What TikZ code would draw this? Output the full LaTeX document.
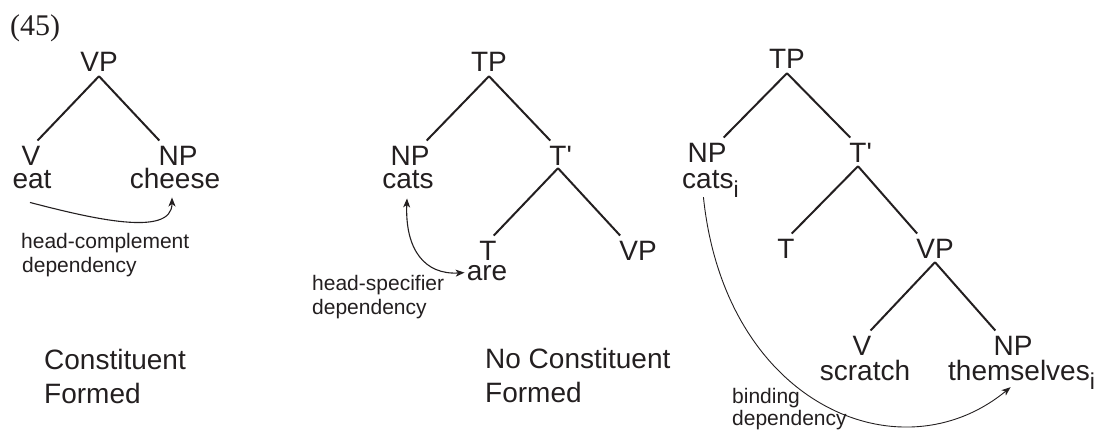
\documentclass[tikz,border=0pt]{standalone}
\usepackage{fontspec}
\setmainfont{Liberation Sans}[Ligatures=TeXOff]
\newfontfamily\exfont{Liberation Serif}
\usetikzlibrary{arrows.meta}
\definecolor{ink}{HTML}{231F20}
\newcommand\lblfont{\fontsize{28}{34}\selectfont}
\newcommand\notefont{\fontsize{21}{24}\selectfont}
\newcommand\subi{\raisebox{-9pt}{\fontsize{23}{23}\selectfont i}}
\tikzset{
  cat/.style={font=\lblfont, text=ink, inner sep=0pt, anchor=base},
  word/.style={font=\lblfont, text=ink, inner sep=0pt, anchor=base},
  wordw/.style={font=\lblfont, text=ink, inner sep=0pt, anchor=base west},
  note/.style={font=\notefont, text=ink, inner sep=0pt, anchor=base west},
  branch/.style={draw=ink, line width=2pt},
  dep/.style={draw=ink, line width=1.1pt, -{Stealth[length=9pt,width=7pt,inset=2.5pt]}},
  depboth/.style={draw=ink, line width=1.1pt, {Stealth[length=9pt,width=7pt,inset=2.5pt]}-{Stealth[length=9pt,width=7pt,inset=2.5pt]}},
}
\begin{document}
\begin{tikzpicture}[x=1pt,y=-1pt]
\useasboundingbox (0,0) rectangle (1101,432);

\node[font=\exfont\fontsize{30}{30}\selectfont, text=ink, inner sep=0pt, anchor=base west] (ex) at (10,35) {(45)};

% ---------- Tree 1 ----------
\node[cat] (vp1) at (99,71) {VP};
\node[cat] (v1) at (31,165) {V};
\node[cat] (np1) at (178,165) {NP};
\node[word] (eat1) at (32,188) {eat};
\node[word] (cheese1) at (175,188) {cheese};
\draw[branch] ([yshift=-5pt]vp1.south) -- ([xshift=-3pt,yshift=5pt]v1.north east);
\draw[branch] ([yshift=-5pt]vp1.south) -- ([xshift=1pt,yshift=5pt]np1.north west);
\draw[dep] ([xshift=-2pt,yshift=-14pt]eat1.south) .. controls (90,218) and (172,238) .. ([xshift=-3pt,yshift=-9pt]cheese1.south);
\node[note] (hc1) at (21,248) {head-complement};
\node[note] (hc2) at (22,272) {dependency};
\node[wordw] (cf1) at (44,369) {Constituent};
\node[wordw] (cf2) at (44,403) {Formed};

% ---------- Tree 2 ----------
\node[cat] (tp2) at (489,71) {TP};
\node[cat] (np2) at (410,165) {NP};
\node[cat] (tb2) at (558,165) {T\rlap{'}};
\node[word] (cats2) at (408,188) {cats};
\node[cat] (t2) at (488,260) {T};
\node[cat] (vp2) at (638,260) {VP};
\node[word] (are2) at (487,280) {are};
\draw[branch] ([yshift=-5pt]tp2.south) -- ([xshift=-3pt,yshift=5pt]np2.north east);
\draw[branch] ([yshift=-5pt]tp2.south) -- ([xshift=1pt,yshift=5pt]tb2.north west);
\draw[branch] ([yshift=-3pt]tb2.south) -- ([xshift=-3pt,yshift=5pt]t2.north east);
\draw[branch] ([yshift=-3pt]tb2.south) -- ([xshift=1pt,yshift=5pt]vp2.north west);
\draw[depboth] ([xshift=-1pt,yshift=-10pt]cats2.south) .. controls (405,250) and (425,275) .. ([xshift=-2pt]are2.west);
\node[note] (hs1) at (312,290) {head-specifier};
\node[note] (hs2) at (312,314) {dependency};
\node[wordw] (nc1) at (485,368) {No Constituent};
\node[wordw] (nc2) at (485,402) {Formed};

% ---------- Tree 3 ----------
\node[cat] (tp3) at (787,68) {TP};
\node[cat] (np3) at (707,162) {NP};
\node[cat] (tb3) at (858,162) {T\rlap{'}};
\node[wordw] (cats3) at (682,188) {cats\subi};
\node[cat] (t3) at (786,258) {T};
\node[cat] (vp3) at (935,258) {VP};
\node[cat] (v3) at (862,355) {V};
\node[cat] (np3b) at (1013,355) {NP};
\node[word] (scratch3) at (865,380) {scratch};
\node[wordw] (them3) at (948,380) {themselves\subi};
\draw[branch] ([yshift=-5pt]tp3.south) -- ([xshift=-3pt,yshift=5pt]np3.north east);
\draw[branch] ([yshift=-5pt]tp3.south) -- ([xshift=1pt,yshift=5pt]tb3.north west);
\draw[branch] ([yshift=-4pt]tb3.south) -- ([xshift=-3pt,yshift=5pt]t3.north east);
\draw[branch] ([yshift=-4pt]tb3.south) -- ([xshift=1pt,yshift=5pt]vp3.north west);
\draw[branch] ([yshift=-4pt]vp3.south) -- ([xshift=-1pt,yshift=5pt]v3.north east);
\draw[branch] ([yshift=-4pt]vp3.south) -- ([xshift=2pt,yshift=5pt]np3b.north west);
\draw[dep, line width=0.9pt] ([xshift=-7pt]cats3.south) .. controls (725,405) and (900,478) .. ([xshift=-11pt,yshift=2pt]them3.south);
\node[note] (bd1) at (732,403) {binding};
\node[note] (bd2) at (732,425) {dependency};
\end{tikzpicture}
\end{document}
